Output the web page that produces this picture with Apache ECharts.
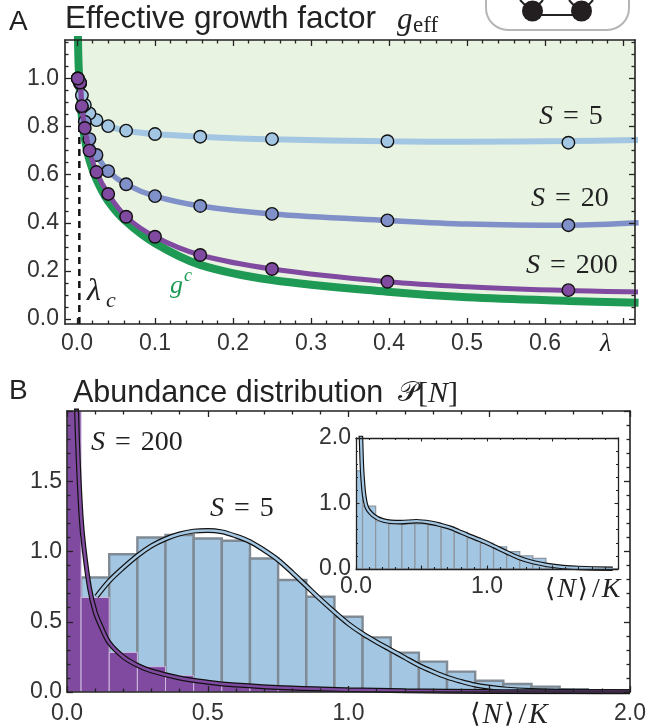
<!DOCTYPE html>
<html lang="en">
<head>
  <meta charset="UTF-8">
  <title>Effective growth factor and abundance distribution</title>
  <script src="https://cdn.jsdelivr.net/npm/echarts@6/dist/echarts.min.js"></script>
  <style>
    html, body { margin: 0; padding: 0; background: #fff; }
  </style>
</head>
<body>
  <div id="main" style="width: 649px;height:728px;"></div>

  <script type="text/javascript">
    // Panel A: measured points
    const lambdaPts = [0.63, 0.398, 0.25, 0.158, 0.1, 0.063, 0.04, 0.025, 0.016, 0.01, 0.0063, 0.004, 0.001];
    const pointsS5 = [0.733, 0.739, 0.748, 0.758, 0.769, 0.783, 0.802, 0.827, 0.855, 0.89, 0.93, 0.98, 1.0];
    const pointsS20 = [0.39, 0.41, 0.437, 0.47, 0.511, 0.56, 0.615, 0.682, 0.748, 0.82, 0.88, 0.98, 1.0];
    const pointsS200 = [0.12, 0.155, 0.208, 0.266, 0.342, 0.425, 0.52, 0.611, 0.70, 0.794, 0.885, 0.983, 1.0];

    // Panel A: curves
    const lambdaLine = [0.001, 0.004, 0.0063, 0.01, 0.016, 0.025, 0.04, 0.063, 0.1, 0.158, 0.25, 0.398, 0.5, 0.63, 0.72];
    const lineS5 = [1.0, 0.98, 0.93, 0.89, 0.855, 0.827, 0.802, 0.783, 0.769, 0.758, 0.747, 0.739, 0.737, 0.74, 0.744];
    const lineS20 = [1.0, 0.98, 0.88, 0.82, 0.748, 0.682, 0.615, 0.56, 0.511, 0.47, 0.437, 0.41, 0.395, 0.39, 0.40];
    const lineS200 = [1.0, 0.983, 0.885, 0.794, 0.70, 0.611, 0.52, 0.425, 0.342, 0.266, 0.208, 0.155, 0.134, 0.118, 0.112];
    const lambdaCrit = [0.001, 0.0015, 0.0025, 0.004, 0.0063, 0.01, 0.016, 0.025, 0.04, 0.063, 0.1, 0.158, 0.25, 0.398, 0.5, 0.63, 0.72];
    const critical = [1.25, 1.12, 1.02, 0.93, 0.84, 0.75, 0.66, 0.58, 0.49, 0.405, 0.315, 0.225, 0.162, 0.113, 0.09, 0.075, 0.068];
    const lambdaC = 0.003;

    // Panel B: histograms, bins of width 0.1
    const binWidth = 0.1;
    const bins = [0, 0.1, 0.2, 0.3, 0.4, 0.5, 0.6, 0.7, 0.8, 0.9, 1.0, 1.1, 1.2, 1.3, 1.4, 1.5, 1.6, 1.7, 1.8, 1.9, 2.0];
    const histS5 = [0.7, 0.815, 0.98, 1.10, 1.117, 1.093, 1.076, 0.95, 0.797, 0.678, 0.536, 0.389, 0.28, 0.216, 0.145, 0.08, 0.057, 0.038, 0.02, 0.012, 0.006];
    const histS200 = [2.6, 0.673, 0.282, 0.18, 0.116, 0.073, 0.05, 0.035, 0.025, 0.02, 0.015, 0.012, 0.01, 0.008, 0.007, 0.006, 0.005, 0.005, 0.004, 0.004, 0.003];
    const histInset = [1.5, 0.96, 0.73, 0.69, 0.69, 0.69, 0.67, 0.64, 0.56, 0.47, 0.39, 0.34, 0.265, 0.2, 0.163, 0.05, 0.03, 0.012, 0.006, 0.004, 0.003];

    // Panel B: theory curves
    const curveS5X = [0.105, 0.15, 0.2, 0.25, 0.3, 0.35, 0.4, 0.45, 0.5, 0.55, 0.6, 0.65, 0.7, 0.75, 0.8, 0.85, 0.9, 0.95, 1.0, 1.05, 1.1, 1.15, 1.2, 1.25, 1.3, 1.35, 1.4, 1.45, 1.5, 1.55, 1.65, 1.8, 2.0];
    const curveS5 = [0.68, 0.79, 0.885, 0.97, 1.04, 1.09, 1.125, 1.145, 1.15, 1.14, 1.11, 1.07, 1.01, 0.94, 0.85, 0.755, 0.66, 0.57, 0.485, 0.415, 0.355, 0.30, 0.245, 0.19, 0.145, 0.105, 0.075, 0.05, 0.034, 0.022, 0.01, 0.003, 0.001];
    const curveS200X = [0.03, 0.034, 0.04, 0.05, 0.06, 0.08, 0.1, 0.12, 0.15, 0.2, 0.25, 0.3, 0.4, 0.5, 0.6, 0.8, 1.0, 1.2, 1.5, 2.0];
    const curveS200 = [2.4, 2.0, 1.65, 1.25, 1.03, 0.74, 0.57, 0.47, 0.35, 0.25, 0.19, 0.15, 0.10, 0.07, 0.05, 0.028, 0.016, 0.009, 0.003, 0.001];
    const curveInsetX = [0.03, 0.038, 0.05, 0.077, 0.13, 0.21, 0.34, 0.46, 0.59, 0.65, 0.72, 0.78, 0.85, 0.95, 1.05, 1.15, 1.25, 1.35, 1.46, 1.58, 1.7, 1.96];
    const curveInset = [2.4, 2.0, 1.4, 0.97, 0.82, 0.74, 0.715, 0.73, 0.70, 0.67, 0.63, 0.58, 0.52, 0.44, 0.35, 0.255, 0.165, 0.105, 0.06, 0.03, 0.015, 0.003];

    // Tick positions
    const ticksAxMajor = [0, 0.1, 0.2, 0.3, 0.4, 0.5, 0.6, 0.7];
    const ticksAxMinor = [];
    for (let i = 0; i <= 35; i++) { if (i % 5) ticksAxMinor.push(i * 0.02); }
    const ticksAyMajor = [0, 0.2, 0.4, 0.6, 0.8, 1.0];
    const ticksAyMinor = [];
    for (let i = 0; i <= 23; i++) { if (i % 4) ticksAyMinor.push(i * 0.05); }
    const ticksBMajor = [0, 0.5, 1.0, 1.5, 2.0];
    const ticksBMinor = [];
    for (let i = 0; i <= 20; i++) { if (i % 5) ticksBMinor.push(i * 0.1); }
    const ticksInsetYMinor = [0.2, 0.4, 0.6, 0.8, 1.2, 1.4, 1.6, 1.8];
    const labelsAx = [0, 0.1, 0.2, 0.3, 0.4, 0.5, 0.6];
    const labelsAy = [0, 0.2, 0.4, 0.6, 0.8, 1.0];
    const labelsBx = [0, 0.5, 1.0, 2.0];
    const labelsBy = [0, 0.5, 1.0, 1.5];
    const labelsInsetX = [0, 1.0];
    const labelsInsetY = [0, 1.0, 2.0];

    const BLUE = '#a3c6e2', INDIGO = '#8090c8', PURPLE = '#7f4a9f', GREEN = '#1f9a55';
    const FILL = '#e9f3e2', EDGE = '#7f8a94', LAVENDER = '#cdbbdd', INK = '#222';
    const SANS = '"Liberation Sans", Arial, sans-serif';
    const SERIF = '"Liberation Serif", serif';
    const toXY = (xs, ys) => xs.map((x, i) => [x, ys[i]]);

    let xAxes = [];
    let yAxes = [];

    // every frame side gets one axis for major and one for minor ticks
    function addAxes(list, grid, range, sides, major, minor, labels, t, margin) {
      sides.forEach((side, s) => {
        [major, minor].forEach((vals, m) => {
          list.push({
            type: 'value', gridIndex: grid, min: range[0], max: range[1], position: side, z: 10,
            splitLine: { show: false },
            axisLine: { show: m === 0, onZero: false, lineStyle: { color: INK, width: t.line } },
            axisTick: {
              show: true, inside: true, length: m === 0 ? t.major : t.minor, customValues: vals,
              lineStyle: { color: INK, width: t.tick }
            },
            axisLabel: {
              show: s === 0 && m === 0, customValues: labels, margin: margin,
              color: '#333', fontFamily: SANS, fontSize: t.font,
              formatter: (v) => v.toFixed(1)
            }
          });
        });
      });
    }

    const mainTicks = { line: 1.6, tick: 1.3, major: 6, minor: 3.5, font: 23 };
    const insetTicks = { line: 1.3, tick: 1.1, major: 3.5, minor: 2, font: 23 };
    addAxes(xAxes, 0, [-0.01538, 0.7154], ['bottom', 'top'], ticksAxMajor, ticksAxMinor, labelsAx, mainTicks, 8);
    addAxes(yAxes, 0, [-0.0208, 1.16], ['left', 'right'], ticksAyMajor, ticksAyMinor, labelsAy, mainTicks, 6);
    addAxes(xAxes, 1, [0, 2], ['bottom', 'top'], ticksBMajor, ticksBMinor, labelsBx, mainTicks, 10);
    addAxes(yAxes, 1, [0, 2], ['left', 'right'], ticksBMajor, ticksBMinor, labelsBy, mainTicks, 5);
    addAxes(xAxes, 2, [0, 2], ['bottom', 'top'], ticksBMajor, ticksBMinor, labelsInsetX, insetTicks, 6);
    addAxes(yAxes, 2, [0, 2], ['left', 'right'], [0, 1.0, 2.0], ticksInsetYMinor, labelsInsetY, insetTicks, 5);

    const AX_A = 0, AX_B = 4, AX_IN = 8;

    function lineSeries(ax, data, color, width, z, extra) {
      return Object.assign({
        type: 'line', xAxisIndex: ax, yAxisIndex: ax, data: data, smooth: 0.35, showSymbol: false,
        lineStyle: { color: color, width: width }, itemStyle: { color: color }, z: z
      }, extra || {});
    }
    function pointSeries(ys, color, z) {
      return {
        type: 'scatter', xAxisIndex: AX_A, yAxisIndex: AX_A, data: toXY(lambdaPts, ys), symbolSize: 12.5, z: z,
        itemStyle: { color: color, borderColor: '#111', borderWidth: 1.4, opacity: 1 }
      };
    }
    // bins are centred on their value, so the outer ones have to be cut at the frame
    function barSeries(ax, vals, color, edge, edgeWidth, z) {
      return {
        type: 'custom', xAxisIndex: ax, yAxisIndex: ax, data: toXY(bins, vals), z: z, clip: true,
        encode: { x: 0, y: 1 },
        renderItem: (params, api) => {
          const a = api.coord([api.value(0) - binWidth / 2, api.value(1)]);
          const b = api.coord([api.value(0) + binWidth / 2, 0]);
          const cs = params.coordSys;
          return {
            type: 'rect',
            shape: echarts.graphic.clipRectByRect(
              { x: a[0], y: a[1], width: b[0] - a[0], height: b[1] - a[1] },
              { x: cs.x, y: cs.y, width: cs.width, height: cs.height }
            ),
            style: { fill: color, stroke: edge, lineWidth: edgeWidth }
          };
        }
      };
    }
    // black outline with a coloured core
    function doubleCurve(ax, xs, ys, color, outer, inner, z) {
      return [
        lineSeries(ax, toXY(xs, ys), '#111', outer, z),
        lineSeries(ax, toXY(xs, ys), color, inner, z + 0.1)
      ];
    }

    const series = [
      // panel A
      lineSeries(AX_A, toXY(lambdaCrit, critical), FILL, 0, 1, {
        areaStyle: { color: FILL, opacity: 1, origin: 'end' }
      }),
      lineSeries(AX_A, [[lambdaC, -0.0208], [lambdaC, 0.82]], '#111', 2.5, 2, {
        smooth: false, lineStyle: { color: '#111', width: 2.5, type: [7, 5] }
      }),
      lineSeries(AX_A, toXY(lambdaCrit, critical), GREEN, 8, 3),
      lineSeries(AX_A, toXY(lambdaLine, lineS5), BLUE, 6, 4),
      pointSeries(pointsS5, BLUE, 5),
      lineSeries(AX_A, toXY(lambdaLine, lineS20), INDIGO, 5.5, 6),
      pointSeries(pointsS20, INDIGO, 7),
      lineSeries(AX_A, toXY(lambdaLine, lineS200), PURPLE, 5, 8),
      pointSeries(pointsS200, PURPLE, 9),
      // panel B
      barSeries(AX_B, histS5, BLUE, EDGE, 2.4, 2),
      barSeries(AX_B, histS200, PURPLE, LAVENDER, 1, 3),
      ...doubleCurve(AX_B, curveS5X, curveS5, BLUE, 5, 2.6, 4),
      ...doubleCurve(AX_B, curveS200X, curveS200, PURPLE, 5, 2.6, 5),
      // inset
      barSeries(AX_IN, histInset, BLUE, '#8d969e', 1.2, 4),
      ...doubleCurve(AX_IN, curveInsetX, curveInset, BLUE, 4.6, 2.3, 5)
    ];

    function txt(x, y, text, size, family, extra) {
      return {
        type: 'text', x: x, y: y, z: 50,
        style: Object.assign({
          text: text, fontSize: size, fontFamily: family, fill: '#222', verticalAlign: 'middle', align: 'left'
        }, extra || {})
      };
    }
    const mathRich = (size) => ({
      i: { fontFamily: SERIF, fontStyle: 'italic', fontSize: size, fill: '#222' },
      u: { fontFamily: SERIF, fontSize: size, fill: '#222' },
      e: { fontFamily: SERIF, fontSize: size, fill: '#222', padding: [0, 10, 0, 10] },
      s: { fontFamily: SERIF, fontSize: size, fill: '#222', padding: [0, 2, 0, 2] },
      d: { fontFamily: '"DejaVu Serif", serif', fontSize: size - 2, fill: '#222', padding: [0, 2, 0, 2] },
      p: { fontFamily: '"DejaVu Sans", "Noto Sans", serif', fontSize: size - 2, fill: '#222' }
    });
    const eqLabel = (x, y, s) => txt(x, y, '{i|S}{e|=}{u|' + s + '}', 28, SERIF, { rich: mathRich(28) });
    const normLabel = (x, y, size) => txt(x, y, '{d|⟨}{i|N}{d|⟩}{s|/}{i|K}', size, SERIF, { rich: mathRich(size) });

    const graphics = [
      txt(9, 22, 'A', 28, SANS),
      txt(9, 391, 'B', 28, SANS),
      txt(65, 19, 'Effective growth factor', 31.5, SANS),
      txt(397, 21, 'g', 31, SERIF, { fontStyle: 'italic' }),
      txt(413, 26, 'eff', 23, SERIF),
      txt(73, 394, 'Abundance distribution', 30.5, SANS),
      txt(398, 394, '{p|𝒫}{u|[}{i|N}{u|]}', 30, SERIF, { rich: mathRich(30) }),
      eqLabel(539, 117, '5'),
      eqLabel(531, 199, '20'),
      eqLabel(526, 266, '200'),
      eqLabel(91, 443, '200'),
      eqLabel(210, 509, '5'),
      txt(600, 344, 'λ', 26, SERIF, { fontStyle: 'italic' }),
      txt(87, 292, 'λ', 32, SERIF, { fontStyle: 'italic' }),
      txt(106, 301, 'c', 22, SERIF, { fontStyle: 'italic' }),
      txt(170, 286, 'g', 26, SERIF, { fontStyle: 'italic', fill: GREEN }),
      txt(184, 276, 'c', 18, SERIF, { fontStyle: 'italic', fill: GREEN }),
      normLabel(468, 715, 29),
      normLabel(543, 590, 28),
      // interaction motif in the corner
      {
        type: 'rect', z: 50, shape: { x: 486, y: -30, width: 143, height: 60, r: 22 },
        style: { fill: 'none', stroke: '#b4b6b8', lineWidth: 2 }
      },
      { type: 'line', z: 51, shape: { x1: 532, y1: 15, x2: 582, y2: 15 }, style: { stroke: '#222', lineWidth: 2 } },
      { type: 'line', z: 51, shape: { x1: 520, y1: 0, x2: 530, y2: 10 }, style: { stroke: '#222', lineWidth: 2 } },
      { type: 'line', z: 51, shape: { x1: 543, y1: 0, x2: 534, y2: 10 }, style: { stroke: '#222', lineWidth: 2 } },
      { type: 'line', z: 51, shape: { x1: 569, y1: 0, x2: 578, y2: 10 }, style: { stroke: '#222', lineWidth: 2 } },
      { type: 'line', z: 51, shape: { x1: 593, y1: 0, x2: 584, y2: 10 }, style: { stroke: '#222', lineWidth: 2 } },
      { type: 'circle', z: 52, shape: { cx: 532.5, cy: 11, r: 10.5 }, style: { fill: '#231f20' } },
      { type: 'circle', z: 52, shape: { cx: 581.5, cy: 11, r: 10.5 }, style: { fill: '#231f20' } }
    ];

    let myChart = echarts.init(document.getElementById('main'), null, { renderer: 'canvas' });
    myChart.setOption({
      animation: false,
      backgroundColor: '#fff',
      grid: [
        { left: 65, top: 40, width: 570, height: 284, containLabel: false },
        { left: 67, top: 411, width: 565, height: 281, containLabel: false },
        { left: 356, top: 438, width: 262, height: 131, containLabel: false }
      ],
      xAxis: xAxes,
      yAxis: yAxes,
      series: series,
      graphic: graphics
    });
  </script>
</body>
</html>
